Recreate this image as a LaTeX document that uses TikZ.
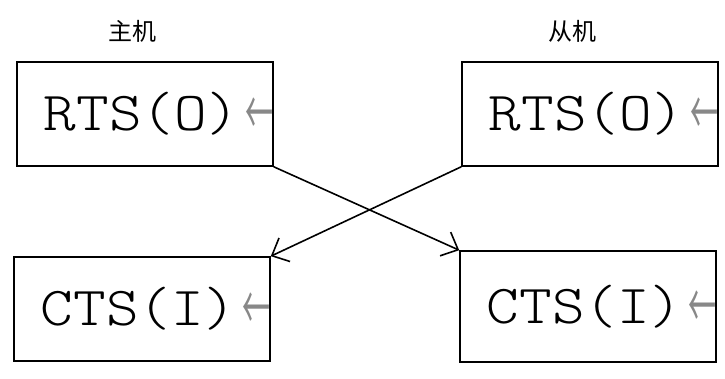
\documentclass[tikz,border=0pt]{standalone}
\usepackage{fontspec}
\usepackage{graphicx}
\usepackage{xcolor}
\usepackage{tikz}
\usetikzlibrary{arrows.meta}
\newfontfamily\cjk{Noto Sans CJK SC}
\newfontfamily\pinfont[FakeStretch=1.13]{Latin Modern Mono Light}
\definecolor{Ink}{HTML}{000000}
\definecolor{Hint}{HTML}{888888}

\tikzset{
  pinbox/.style={draw=Ink,line width=1.6pt,minimum width=256,minimum height=104,inner sep=0pt},
  pintext/.style={font=\pinfont\fontsize{55}{55}\selectfont,inner sep=0pt,anchor=east},
  side/.style={font=\cjk\fontsize{24}{24}\selectfont,inner sep=0pt},
  wire/.style={Ink,line width=1.6pt,->},
}
\newcommand{\inarrow}{\hspace{6pt}\raisebox{-5pt}{\scalebox{1}[2.2]{\cjk\fontsize{28}{28}\selectfont\color{Hint}←}}}

\begin{document}
\begin{tikzpicture}[x=1pt,y=-1pt,>={Straight Barb[length=14pt,width=26pt]}]
  \useasboundingbox (0,0) rectangle (725,378);
  % host side
  \node[side] (hostLbl) at (132,31) {主机};
  \node[pinbox] (rtsM) at (145,114) {};
  \node[pintext] (rtsMt) at (rtsM.east) {RTS(O)\inarrow};
  \node[pinbox] (ctsM) at (142,309) {};
  \node[pintext] (ctsMt) at (ctsM.east) {CTS(I)\inarrow};
  % slave side
  \node[side] (slaveLbl) at (572,31) {从机};
  \node[pinbox] (rtsS) at (590,114) {};
  \node[pintext] (rtsSt) at (rtsS.east) {RTS(O)\inarrow};
  \node[pinbox,minimum height=111] (ctsS) at (588,306.5) {};
  \node[pintext] (ctsSt) at (ctsS.east) {CTS(I)\inarrow};
  % crossed handshake lines
  \draw[wire] (rtsM.south east) -- (ctsS.north west);
  \draw[wire] (rtsS.south west) -- (ctsM.north east);
\end{tikzpicture}
\end{document}
